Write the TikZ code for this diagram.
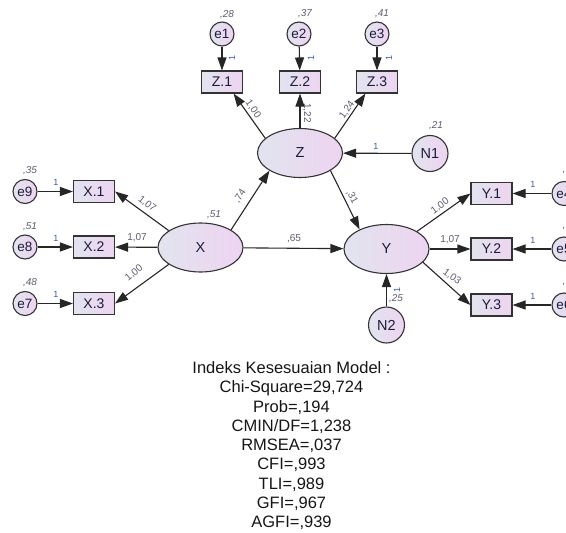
\documentclass[tikz,border=0pt]{standalone}
\usepackage{fontspec}
\setmainfont{Liberation Sans}
\usetikzlibrary{shapes.geometric,arrows.meta}
\definecolor{cA}{HTML}{E2E4EF}
\definecolor{cB}{HTML}{EDD4F0}
\definecolor{ntext}{HTML}{1C1C3A}
\definecolor{lcol}{HTML}{5C5C72}
\definecolor{bcol}{HTML}{3A5AB0}
\definecolor{tcol}{HTML}{151515}
\tikzset{
  base/.style={draw=black!80, line width=1.1pt, inner sep=0pt, left color=cA, right color=cB, text=ntext},
  lat/.style={base, ellipse, minimum width=85pt, minimum height=49pt, font=\fontsize{14.5}{14.5}\selectfont},
  obs/.style={base, rectangle, minimum width=41pt, minimum height=22pt, font=\fontsize{14}{14}\selectfont},
  err/.style={base, circle, minimum size=24pt, font=\fontsize{13.5}{13.5}\selectfont},
  dist/.style={base, circle, minimum size=36pt, font=\fontsize{14.5}{14.5}\selectfont},
  vlab/.style={font=\fontsize{10}{10}\selectfont\itshape, text=lcol, inner sep=0pt},
  llab/.style={font=\fontsize{10}{10}\selectfont, text=lcol, inner sep=0pt},
  one/.style={font=\fontsize{9}{9}\selectfont, text=bcol, inner sep=0pt},
  arr/.style={-{Triangle[length=13pt,width=9pt]}, line width=1.1pt, draw=black!85},
}
\begin{document}
\begin{tikzpicture}[x=1pt,y=-1pt]
\useasboundingbox (0,0) rectangle (566,533);
\clip (0,0) rectangle (566,533);
% latent
\node[lat] (X) at (200.5,247.5) {X};
\node[lat] (Z) at (300,153) {Z};
\node[lat] (Y) at (386.5,249) {Y};
% disturbances
\node[dist] (N1) at (430,153.5) {N1};
\node[dist] (N2) at (386.5,325) {N2};
% indicators
\node[obs] (Z1) at (222,82) {Z.1};
\node[obs] (Z2) at (300,82) {Z.2};
\node[obs] (Z3) at (377,82) {Z.3};
\node[obs] (X1) at (94,191.5) {X.1};
\node[obs] (X2) at (94,247) {X.2};
\node[obs] (X3) at (94,303.5) {X.3};
\node[obs] (Y1) at (491.5,193.5) {Y.1};
\node[obs] (Y2) at (491.5,249) {Y.2};
\node[obs] (Y3) at (491.5,305) {Y.3};
% errors
\node[err] (e1) at (222,34) {e1};
\node[err] (e2) at (299,34) {e2};
\node[err] (e3) at (377,34) {e3};
\node[err] (e9) at (25,191.5) {e9};
\node[err] (e8) at (25,247) {e8};
\node[err] (e7) at (25,303.5) {e7};
\node[err] (e4) at (564,193.5) {e4};
\node[err] (e5) at (564,249) {e5};
\node[err] (e6) at (564,305) {e6};
% error arrows
\draw[arr] (e1) -- (Z1);
\draw[arr] (e2) -- (Z2);
\draw[arr] (e3) -- (Z3);
\draw[arr] (e9) -- (X1);
\draw[arr] (e8) -- (X2);
\draw[arr] (e7) -- (X3);
\draw[arr] (e4) -- (Y1);
\draw[arr] (e5) -- (Y2);
\draw[arr] (e6) -- (Y3);
% structural
\draw[arr] (X.152) -- (X1.east);
\draw[arr] (X) -- (X2);
\draw[arr] (X.208) -- (X3.east);
\draw[arr] (X.30) -- (Z.210);
\draw[arr] (X) -- (Y);
\draw[arr] (Z.-30) -- (Y.144);
\draw[arr] (Z.157) -- (Z1.-45);
\draw[arr] (Z) -- (Z2);
\draw[arr] (Z.23) -- (Z3.-135);
\draw[arr] (N1) -- (Z);
\draw[arr] (N2) -- (Y);
\draw[arr] (Y.30) -- (Y1.west);
\draw[arr] (Y) -- (Y2);
\draw[arr] (Y.-20) -- (Y3.west);
% variance labels
\node[vlab] (v1) at (227,15) {,28};
\node[vlab] (v2) at (305,14) {,37};
\node[vlab] (v3) at (382,14) {,41};
\node[vlab] (v9) at (30,171) {,35};
\node[vlab] (v8) at (30,227) {,51};
\node[vlab] (v7) at (30,283) {,48};
\node[vlab] (vN1) at (436,126) {,21};
\node[vlab] (vX) at (214,215) {,51};
\node[vlab] (vN2) at (396,299) {,25};
\node[vlab] (v4) at (564,173) {,};
\node[vlab] (v5) at (564,229) {,};
\node[vlab] (v6) at (564,285) {,};
% fixed 1 labels
\node[one,rotate=90] (o1) at (232,58) {1};
\node[one,rotate=90] (o2) at (311,58) {1};
\node[one,rotate=90] (o3) at (389,58) {1};
\node[one] (o9) at (56,182) {1};
\node[one] (o8) at (56,238) {1};
\node[one] (o7) at (56,294) {1};
\node[one] (o4) at (533,184) {1};
\node[one] (o5) at (533,240) {1};
\node[one] (o6) at (533,296) {1};
\node[one] (oN1) at (376,146) {1};
\node[one,rotate=90] (oN2) at (397,290) {1};
% loadings
\node[llab,rotate=-38] (lx1) at (147,204) {1,07};
\node[llab] (lx2) at (137,238) {1,07};
\node[llab,rotate=40] (lx3) at (134,273) {1,00};
\node[llab,rotate=57] (lxz) at (240,196) {,74};
\node[llab] (lxy) at (294,239) {,65};
\node[llab,rotate=-62] (lzy) at (352,197) {,31};
\node[llab,rotate=-55] (lz1) at (253,109) {1,00};
\node[llab,rotate=-90] (lz2) at (307,113) {1,22};
\node[llab,rotate=55] (lz3) at (347,110) {1,24};
\node[llab,rotate=36] (ly1) at (440,206) {1,00};
\node[llab] (ly2) at (450,240) {1,07};
\node[llab,rotate=-36] (ly3) at (452,277) {1,03};
% fit indices
\node[anchor=north, align=center, inner sep=0pt, text=tcol, font=\fontsize{16.5}{19.25}\selectfont] (fit) at (291.5,361.5)
{Indeks Kesesuaian Model :\\Chi-Square=29,724\\Prob=,194\\CMIN/DF=1,238\\RMSEA=,037\\CFI=,993\\TLI=,989\\GFI=,967\\AGFI=,939};
\end{tikzpicture}
\end{document}
